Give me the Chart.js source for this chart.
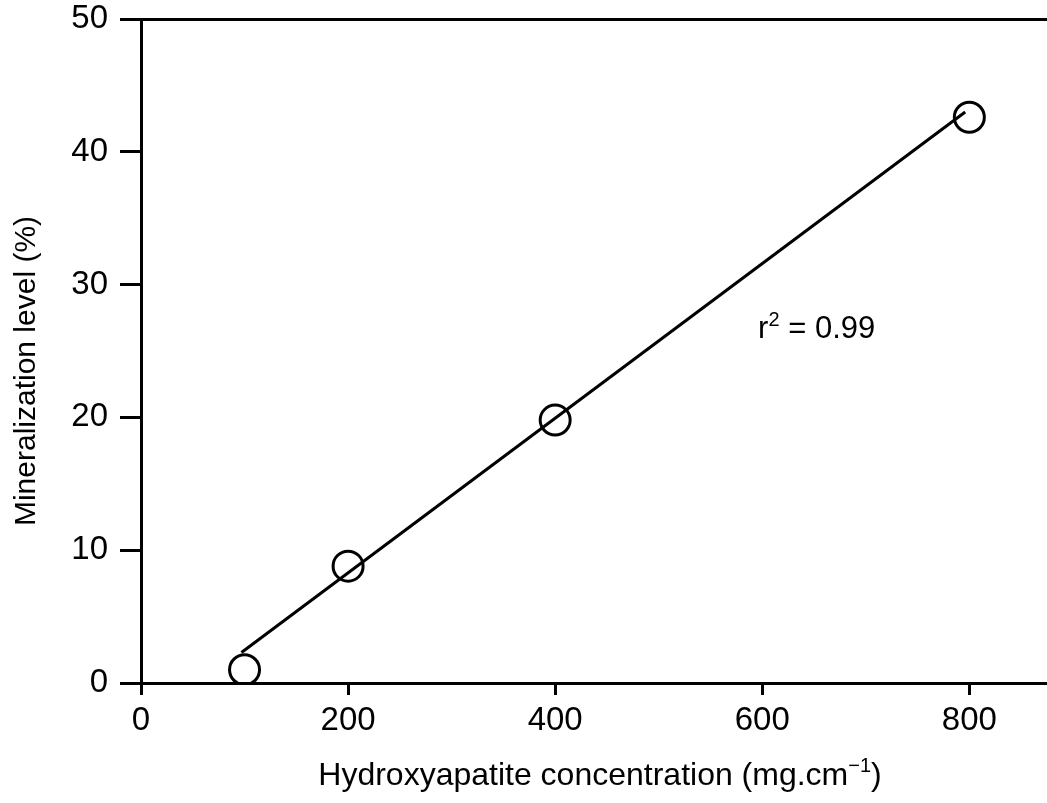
<!DOCTYPE html>
<html><head><meta charset="utf-8">
<script src="https://cdn.jsdelivr.net/npm/chart.js@4/dist/chart.umd.min.js"></script>
<style>html,body{margin:0;padding:0;background:#fff;overflow:hidden}#wrap{width:1047px;height:803px}</style>
</head><body><div id="wrap"><canvas id="c" width="1047" height="803"></canvas></div>
<script>
// ---- data ----
const concentration = [100, 200, 400, 800];
const mineralization = [1.0, 8.8, 19.8, 42.6];
const fitX = [97, 796];
const fitY = [2.3, 43.0];
const xTicks = [0, 200, 400, 600, 800];
const yTicks = [0, 10, 20, 30, 40, 50];
const xTitleMain = 'Hydroxyapatite concentration (mg.cm';
const xTitleSup = '\u22121';
const xTitleEnd = ')';
const yTitle = 'Mineralization level (%)';
const r2Label = {x: 596, y: 26, base: 'r', sup: '2', rest: ' = 0.99'};

const FONT = "'Liberation Sans', Arial, Helvetica, sans-serif";

const textPlugin = {
  id: 'texts',
  afterDraw(chart) {
    const ctx = chart.ctx, ca = chart.chartArea;
    const xs = chart.scales.x, ys = chart.scales.y;
    ctx.save();
    ctx.fillStyle = '#000';
    // r^2 annotation
    let px = xs.getPixelForValue(r2Label.x), py = ys.getPixelForValue(r2Label.y);
    ctx.textBaseline = 'alphabetic'; ctx.textAlign = 'left';
    ctx.font = '31px ' + FONT;
    ctx.fillText(r2Label.base, px, py);
    px += ctx.measureText(r2Label.base).width;
    ctx.font = '20px ' + FONT;
    ctx.fillText(r2Label.sup, px, py - 12);
    px += ctx.measureText(r2Label.sup).width;
    ctx.font = '31px ' + FONT;
    ctx.fillText(r2Label.rest, px, py);
    // x title
    ctx.font = '32px ' + FONT;
    const w1 = ctx.measureText(xTitleMain).width;
    ctx.font = '20px ' + FONT;
    const w2 = ctx.measureText(xTitleSup).width;
    ctx.font = '32px ' + FONT;
    const w3 = ctx.measureText(xTitleEnd).width;
    const total = w1 + w2 + w3;
    let tx = 600 - total / 2; const ty = 785;
    ctx.fillText(xTitleMain, tx, ty); tx += w1;
    ctx.font = '20px ' + FONT;
    ctx.fillText(xTitleSup, tx, ty - 13); tx += w2;
    ctx.font = '32px ' + FONT;
    ctx.fillText(xTitleEnd, tx, ty);
    // y title
    ctx.font = '30px ' + FONT;
    ctx.translate(35, (ca.top + ca.bottom) / 2 + 20);
    ctx.rotate(-Math.PI / 2);
    ctx.textAlign = 'center';
    ctx.fillText(yTitle, 0, 0);
    ctx.restore();
  }
};

new Chart(document.getElementById('c'), {
  data: {
    datasets: [
      {
        type: 'line',
        data: fitX.map((x, i) => ({x, y: fitY[i]})),
        borderColor: '#000', borderWidth: 3, pointRadius: 0, fill: false, tension: 0
      },
      {
        type: 'scatter',
        data: concentration.map((x, i) => ({x, y: mineralization[i]})),
        pointRadius: 15, pointHoverRadius: 15, pointBorderWidth: 3,
        borderColor: '#000', backgroundColor: 'rgba(0,0,0,0)'
      }
    ]
  },
  options: {
    responsive: false, animation: false, devicePixelRatio: 1,
    layout: {autoPadding: false, padding: {top: 19, right: 0, left: 0, bottom: 0}},
    plugins: {legend: {display: false}, tooltip: {enabled: false}},
    scales: {
      x: {
        type: 'linear', min: 0, max: 875,
        afterBuildTicks: s => { s.ticks = xTicks.map(v => ({value: v})); },
        afterFit: s => { s.height = 120; s.paddingLeft = 0; s.paddingRight = 0; },
        grid: {drawOnChartArea: false, tickLength: 12, tickWidth: 3, tickColor: '#000'},
        border: {color: '#000', width: 3},
        ticks: {color: '#000', font: {size: 33, family: FONT}, padding: 6, maxRotation: 0, autoSkip: false}
      },
      y: {
        type: 'linear', min: 0, max: 50,
        afterBuildTicks: s => { s.ticks = yTicks.map(v => ({value: v})); },
        afterFit: s => { s.width = 141; s.paddingTop = 0; s.paddingBottom = 0; },
        grid: {
          drawOnChartArea: true,
          color: c => (c.tick && c.tick.value === 50) ? '#000' : 'rgba(0,0,0,0)',
          lineWidth: 3, tickLength: 21, tickWidth: 3, tickColor: '#000'
        },
        border: {color: '#000', width: 3},
        ticks: {color: '#000', font: {size: 33, family: FONT}, padding: 12, autoSkip: false}
      }
    }
  },
  plugins: [textPlugin]
});
</script>
</body></html>
